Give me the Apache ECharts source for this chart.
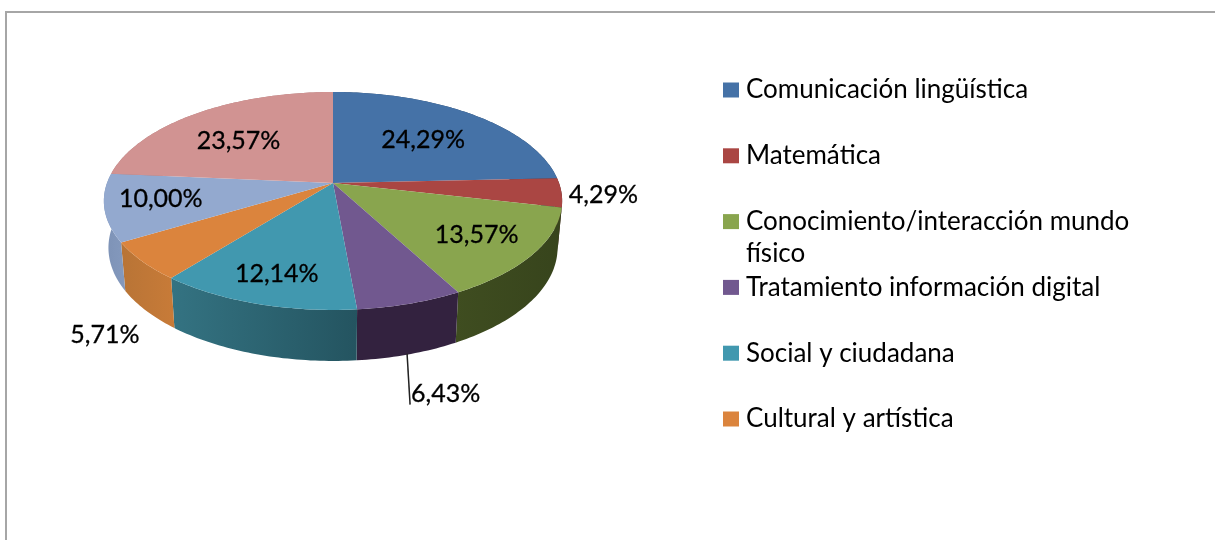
<!DOCTYPE html>
<html>
<head>
<meta charset="utf-8">
<style>
  html, body { margin: 0; padding: 0; background: #fff; }
  #chart { width: 1215px; height: 540px; }
</style>
<script src="https://cdn.jsdelivr.net/npm/echarts@6/dist/echarts.min.js"></script>
</head>
<body>
<div id="chart"></div>
<script>
// data
var categories = [
  'Comunicación lingüística',
  'Matemática',
  'Conocimiento/interacción mundo físico',
  'Tratamiento información digital',
  'Social y ciudadana',
  'Cultural y artística',
  'Aprender a aprender',
  'Autonomía e iniciativa personal'
];
var values = [24.29, 4.29, 13.57, 6.43, 12.14, 5.71, 10.00, 23.57];
var legendCount = 6; // the original legend is cut off after six entries

// colours
var topColors = ['#4572a7', '#aa4643', '#89a54e', '#71588f', '#4198af', '#db843d', '#93a9cf', '#d19392'];
var wallColors = [
  ['#2c4767', '#2c4767'], ['#5a2523', '#3f1a19'], ['#3f4d20', '#37441c'], ['#33223f', '#33223f'],
  ['#347382', '#245460'], ['#b87436', '#c87b38'], ['#7d92b6', '#8499bd'], ['#b07d7c', '#b07d7c']
];

// label placement: radius on the pie plane, plus a shift in pixels
var labelRadius = [0.62, 1.18, 0.74, 1, 0.76, 1.17, 0.76, 0.67];
var labelDrop = [1, 0, 1, 50, 3, 58, -2, 6];

// perspective of the tilted disc
var cx = 333, cy = 183, radiusX = 226, backY = 106, tilt = 0.165;
var wallShrink = 0.98, wallDepth = 46, wallExtra = 5;

function project(deg, r) {
  var a = deg * Math.PI / 180;
  var u = Math.sin(a) * r, v = Math.cos(a) * r;
  var w = 1 + tilt * v;
  return [cx + radiusX * u / w, cy - backY * v / w];
}
function projectLow(deg) {
  var p = project(deg, 1);
  var v = Math.cos(deg * Math.PI / 180);
  return [cx + (p[0] - cx) * wallShrink, p[1] + wallDepth + wallExtra * Math.max(0, -v)];
}

var total = values.reduce(function (s, v) { return s + v; }, 0);
var starts = [];
values.reduce(function (s, v, i) { starts[i] = s; return s + v; }, 0);
function startDeg(i) { return starts[i] / total * 360; }
function endDeg(i) { return (starts[i] + values[i]) / total * 360; }

function topFace(i) {
  var pts = [[cx, cy]];
  for (var d = startDeg(i); d < endDeg(i); d += 1) pts.push(project(d, 1));
  pts.push(project(endDeg(i), 1));
  return pts;
}
function wallFace(i) {
  var from = startDeg(i), to = endDeg(i), up = [], low = [];
  for (var d = from; d < to; d += 1) { up.push(project(d, 1)); low.unshift(projectLow(d)); }
  up.push(project(to, 1));
  low.unshift(projectLow(to));
  return up.concat(low);
}

var series = [];

// side walls go first, the top faces cover whatever is behind them
series.push({
  type: 'custom',
  name: 'paredes',
  coordinateSystem: 'none',
  z: 1,
  silent: true,
  animation: false,
  data: values,
  renderItem: function (params) {
    var i = params.dataIndex;
    return {
      type: 'polygon',
      shape: { points: wallFace(i) },
      style: {
        fill: {
          type: 'linear', x: 0, y: 0, x2: 1, y2: 0,
          colorStops: [{ offset: 0, color: wallColors[i][0] }, { offset: 1, color: wallColors[i][1] }]
        }
      }
    };
  }
});

categories.forEach(function (name, i) {
  series.push({
    type: 'custom',
    name: name,
    coordinateSystem: 'none',
    z: 2,
    silent: true,
    animation: false,
    itemStyle: { color: topColors[i] },
    data: [values[i]],
    renderItem: function () {
      return { type: 'polygon', shape: { points: topFace(i) }, style: { fill: topColors[i] } };
    }
  });
});

series.push({
  type: 'custom',
  name: 'etiquetas',
  coordinateSystem: 'none',
  z: 3,
  silent: true,
  animation: false,
  data: values,
  renderItem: function (params) {
    var i = params.dataIndex;
    var p = project((startDeg(i) + endDeg(i)) / 2, labelRadius[i]);
    var text = values[i].toFixed(2).replace('.', ',') + '%';
    var isLeader = i === 3; // only this slice has a leader line
    var y = p[1] + labelDrop[i];
    var children = [{
      type: 'text',
      style: {
        text: text,
        x: isLeader ? p[0] + 1 : p[0],
        y: isLeader ? y + 40 : y,
        textAlign: isLeader ? 'left' : 'center',
        textVerticalAlign: 'middle',
        fontFamily: 'Lato',
        fontSize: 25,
        fill: '#000',
        stroke: '#000',
        lineWidth: 0.3
      }
    }];
    if (isLeader) {
      children.push({
        type: 'line',
        shape: { x1: p[0] - 3, y1: y, x2: p[0], y2: y + 51 },
        style: { stroke: '#222', lineWidth: 1.5 }
      });
    }
    return { type: 'group', children: children };
  }
});

var chart = echarts.init(document.getElementById('chart'), null, { renderer: 'canvas' });
chart.setOption({
  backgroundColor: '#fff',
  animation: false,
  legend: {
    orient: 'vertical',
    left: 723,
    top: 77,
    padding: 0,
    icon: 'rect',
    itemWidth: 16,
    itemHeight: 15,
    itemGap: 39.8,
    selectedMode: false,
    data: categories.slice(0, legendCount),
    formatter: function (name) { return name.replace(' físico', ''); },
    textStyle: { fontFamily: 'Lato', fontSize: 26, color: '#000', lineHeight: 24, padding: [0, 0, 0, 2] }
  },
  graphic: [
    {
      type: 'rect', z: 0, silent: true,
      shape: { x: 6, y: 12, width: 1400, height: 700 },
      style: { fill: '#fff', stroke: '#a6a6a6', lineWidth: 2 }
    },
    {
      // the third legend entry wraps without moving the entries below it
      type: 'text', z: 5, silent: true,
      style: { text: 'físico', x: 746, y: 254, textVerticalAlign: 'middle', fontFamily: 'Lato', fontSize: 26, fill: '#000' }
    }
  ],
  series: series
});
</script>
</body>
</html>
